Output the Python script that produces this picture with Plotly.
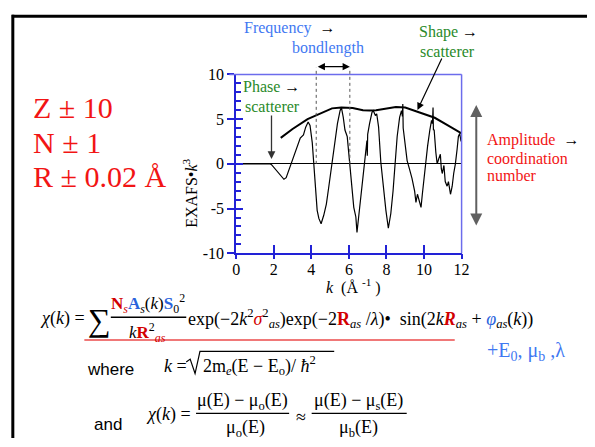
import plotly.graph_objects as go

W, H = 595, 447
SERIF = "Liberation Serif, Times New Roman, serif"
SANS = "Liberation Sans, Arial, sans-serif"

# ---------------- data ----------------
k_values = [0.0, 1.8, 1.88, 2.05, 2.23, 2.4, 2.54, 2.66, 2.8, 2.92, 3.1, 3.27, 3.41, 3.58, 3.7,
            3.83, 3.93, 4.05, 4.14, 4.23, 4.31, 4.4, 4.52, 4.66, 4.8, 4.92, 5.04, 5.15, 5.27,
            5.39, 5.53, 5.6, 5.7, 5.79, 5.91, 6.02, 6.14, 6.26, 6.37, 6.43, 6.5, 6.61, 6.71,
            6.83, 6.92, 6.96, 6.98, 7.0, 7.1, 7.23, 7.3, 7.41, 7.48, 7.58, 7.7, 7.83, 7.97,
            8.1, 8.23, 8.35, 8.45, 8.57, 8.7, 8.8, 8.85, 8.87, 8.89, 8.97, 9.1, 9.22, 9.36,
            9.5, 9.57, 9.65, 9.74, 9.84, 9.91, 10.05, 10.19, 10.31, 10.4, 10.45, 10.48, 10.5,
            10.54, 10.63, 10.7, 10.78, 10.87, 10.92, 10.97, 11.06, 11.13, 11.23, 11.3, 11.41,
            11.5, 11.58, 11.67, 11.76, 11.83, 11.9, 11.97]
chi_values = [0.0, 0.0, -0.1, -0.54, -0.9, -1.44, -1.73, -1.55, -0.72, 0.0, 1.26, 2.16, 2.88,
              3.24, 4.1, 4.68, 4.3, 2.34, 0.0, -3.06, -5.2, -6.1, -6.7, -5.75, -4.5, -2.7,
              -0.72, 1.08, 3.06, 4.5, 5.94, 6.3, 5.2, 3.78, 3.06, 0.54, -1.98, -4.86, -5.94,
              -7.66, -6.3, -4.14, -1.98, 0.0, 1.98, 2.6, 0.9, 3.3, 4.5, 5.76, 5.94, 5.4, 5.6,
              4.14, 0.18, -2.7, -5.2, -7.2, -5.58, -3.06, 0.0, 3.06, 5.2, 5.94, 5.3, 6.7, 4.0,
              2.34, 0.36, -0.54, -1.62, -3.06, -4.3, -3.4, -4.1, -4.86, -3.4, -0.54, 1.98, 3.78,
              4.86, 4.5, 6.3, 3.8, 3.78, 1.26, 0.0, 0.54, 1.08, -0.54, -1.08, -0.18, -1.98,
              -2.5, -1.98, -3.4, -2.5, -1.08, 0.0, 1.6, 3.06, 3.4, 2.5]

env_k = [2.37, 3.0, 3.8, 4.7, 5.1, 5.6, 6.2, 6.75, 7.1, 7.45, 8.1, 8.5, 9.0, 9.7, 10.4, 10.57,
         11.27, 12.0]
env_chi = [2.9, 3.9, 5.0, 5.8, 6.2, 6.3, 6.25, 6.0, 5.95, 6.0, 6.25, 6.35, 6.3, 5.75, 5.25,
           5.15, 4.3, 3.4]

x_tick_vals = [0, 2, 4, 6, 8, 10, 12]
x_tick_text = ["0", "2", "4", "6", "8", "10", "12"]
y_tick_vals = [-10, -5, 0, 5, 10]
y_tick_text = ["-10", "-5", "0", "5", "10"]
bond_k = [4.26, 6.05]

X_RANGE = [0, 12]
Y_RANGE = [-10, 10]

# ---------------- layout helpers ----------------
def px(x):
    return x / W

def py(y):
    return 1 - y / H

PLOT_L, PLOT_R, PLOT_T, PLOT_B = 237, 467, 69, 255
XDOM = [px(PLOT_L), px(PLOT_R)]
YDOM = [py(PLOT_B), py(PLOT_T)]

AXIS_BLUE = "#2222d6"
FRAME_BLUE = "#6c6cec"
RED = "#f21414"
FRED = "#d20000"
FBLUE = "#2a63dc"
LBLUE = "#3f78f2"
GREEN = "#2a8a2a"

anns = []
shapes = []

def txt(x, y, s, size, color="black", family=SERIF, xanchor="left", yanchor="middle", angle=0):
    anns.append(dict(x=px(x), y=py(y), xref="paper", yref="paper", text=s, showarrow=False,
                     font=dict(family=family, size=size, color=color),
                     xanchor=xanchor, yanchor=yanchor, textangle=angle))

def arrow(xh, yh, xt, yt, color="black", width=1.2, both=False):
    anns.append(dict(x=px(xh), y=py(yh), xref="paper", yref="paper", ax=xt - xh, ay=yt - yh,
                     axref="pixel", ayref="pixel", text="", showarrow=True, arrowhead=2,
                     arrowsize=1.2, arrowwidth=width, arrowcolor=color,
                     arrowside="end+start" if both else "end"))

def hline(x0, x1, y, color="black", width=1.2):
    shapes.append(dict(type="line", xref="paper", yref="paper", x0=px(x0), x1=px(x1),
                       y0=py(y), y1=py(y), line=dict(color=color, width=width)))

# ---------------- figure ----------------
fig = go.Figure()
fig.add_trace(go.Scatter(x=k_values, y=chi_values, mode="lines",
                         line=dict(color="black", width=1.2), hoverinfo="skip"))
fig.add_trace(go.Scatter(x=env_k, y=env_chi, mode="lines", xaxis="x2", yaxis="y2",
                         line=dict(color="black", width=2), hoverinfo="skip"))

tickfont = dict(family=SERIF, size=16, color="black")

fig.update_layout(
    width=W, height=H, autosize=False, showlegend=False,
    margin=dict(l=0, r=0, t=0, b=0),
    paper_bgcolor="white", plot_bgcolor="rgba(0,0,0,0)",
    xaxis=dict(domain=XDOM, range=X_RANGE, tickvals=x_tick_vals, ticktext=x_tick_text,
               ticks="inside", ticklen=8, tickwidth=2, tickcolor=AXIS_BLUE, showline=True,
               linecolor=AXIS_BLUE, linewidth=2, showgrid=False, zeroline=False,
               tickfont=tickfont, anchor="y", fixedrange=True),
    yaxis=dict(domain=YDOM, range=Y_RANGE, tickvals=y_tick_vals, ticktext=y_tick_text,
               ticks="outside", ticklen=7, tickwidth=2, tickcolor=AXIS_BLUE, showline=True,
               linecolor=AXIS_BLUE, linewidth=2, showgrid=False, zeroline=True,
               zerolinecolor="black", zerolinewidth=1, tickfont=tickfont, anchor="x",
               fixedrange=True),
    xaxis2=dict(domain=XDOM, range=X_RANGE, overlaying="x", anchor="y2", tickvals=x_tick_vals,
                ticks="outside", ticklen=5, tickwidth=2, tickcolor=AXIS_BLUE,
                showticklabels=False, showline=False, showgrid=False, zeroline=False,
                fixedrange=True),
    yaxis2=dict(domain=YDOM, range=Y_RANGE, overlaying="y", anchor="x2", tickvals=y_tick_vals,
                ticks="inside", ticklen=7, tickwidth=2, tickcolor=AXIS_BLUE,
                minor=dict(ticks="inside", ticklen=5, tickwidth=1.5, tickcolor=AXIS_BLUE, dtick=1),
                showticklabels=False, showline=False, showgrid=False, zeroline=False,
                fixedrange=True),
)

# frame top & right
hline(PLOT_L - 7, PLOT_R, PLOT_T, FRAME_BLUE, 1.5)
shapes.append(dict(type="line", xref="paper", yref="paper", x0=px(PLOT_R), x1=px(PLOT_R),
                   y0=py(PLOT_T), y1=py(PLOT_B), line=dict(color=FRAME_BLUE, width=1.5)))

# slide border
shapes.append(dict(type="line", xref="paper", yref="paper", x0=px(8), x1=1, y0=py(8.5), y1=py(8.5),
                   line=dict(color="black", width=3)))
shapes.append(dict(type="line", xref="paper", yref="paper", x0=px(9), x1=px(9), y0=py(7), y1=0,
                   line=dict(color="black", width=3)))

# dotted bondlength markers (from chi = 0 up above the frame)
y_zero_paper = YDOM[0] + (0 - Y_RANGE[0]) / (Y_RANGE[1] - Y_RANGE[0]) * (YDOM[1] - YDOM[0])
for kb in bond_k:
    shapes.append(dict(type="line", xref="x", yref="paper", x0=kb, x1=kb, y0=y_zero_paper,
                       y1=py(62), line=dict(color="#555", width=1, dash="dot")))
anns.append(dict(x=bond_k[1], y=py(61), xref="x", yref="paper", ax=bond_k[0], ay=0,
                 axref="x", ayref="pixel", text="", showarrow=True, arrowhead=2, arrowsize=1.2,
                 arrowwidth=1.2, arrowcolor="black", arrowside="end+start"))

# axis titles
txt(190, 193, "EXAFS•<i>k</i><sup>3</sup>", 16, angle=-90, xanchor="center")
txt(357, 290, "<i>k</i>  (Å <sup>-1</sup> )", 16, xanchor="center")

# chart annotations
txt(243, 21, f'<span style="color:{LBLUE}">Frequency</span>  →', 16)
txt(292, 42, "bondlength", 16, LBLUE)
txt(421, 25, f'<span style="color:{GREEN}">Shape</span> →', 16)
txt(423, 45, "scatterer", 16, GREEN)
txt(242, 82, f'<span style="color:{GREEN}">Phase</span> →', 16)
txt(244, 102, "scatterer", 16, GREEN)
txt(491, 137, f'<span style="color:{RED}">Amplitude</span>  →', 16)
txt(491, 156, "coordination", 16, RED)
txt(491, 174, "number", 16, RED)

arrow(273, 157, 273, 112, "#333", 1.3)
arrow(422, 106, 447, 53, "black", 1.2)
arrow(482, 226, 482, 104, "#606060", 2, both=True)

# big red uncertainties
txt(28, 103, "Z ± 10", 30, RED)
txt(28, 140, "N ± 1", 30, RED)
txt(28, 175, "R ± 0.02 Å", 30, RED)

# ---------------- formulas ----------------
FS = 18
txt(35, 323, "<i>χ</i>(<i>k</i>) =", FS)
txt(84, 324, "∑", 32)
num = (f'<b><span style="color:{FRED}">N</span></b><sub><i><span style="color:{FRED}">s</span></i></sub>'
       f'<b><span style="color:{FBLUE}">A</span></b><sub><i>s</i></sub>(<i>k</i>)'
       f'<b><span style="color:{FBLUE}">S</span></b><sub>0</sub><sup>2</sup>')
txt(147, 307, num, 17, xanchor="center")
hline(109, 186, 321.5, "black", 1.3)
den = f'<i>k</i><b><span style="color:{FRED}">R</span></b><sup>2</sup><sub><i><span style="color:{FRED}">as</span></i></sub>'
txt(146, 337, den, 17, xanchor="center")
rest = (f'exp(−2<i>k</i><sup>2</sup><i><span style="color:{FRED}">σ</span></i><sup>2</sup><sub><i>as</i></sub>)'
        f'exp(−2<b><span style="color:{FRED}">R</span></b><sub><i>as</i></sub> /<i>λ</i>)•  '
        f'sin(2<i>k</i><b><i><span style="color:{FRED}">R</span></i></b><sub><i>as</i></sub> + '
        f'<i><span style="color:{FBLUE}">φ</span></i><sub><i>as</i></sub>(<i>k</i>))')
txt(186, 323, rest, FS)
hline(82, 460, 345, "#f07878", 2)
txt(491, 357, "+E<sub>0</sub>, μ<sub>b</sub> ,λ", 20, LBLUE)

txt(83, 376, "where", 17, family=SANS)
txt(161, 372, "<i>k</i> =", FS)
# radical sign
shapes.append(dict(type="path", xref="paper", yref="paper",
                   path=f"M {px(186)} {py(368)} L {px(190)} {py(365)} L {px(195)} {py(380)} "
                        f"L {px(200)} {py(357)} L {px(337)} {py(357)}",
                   line=dict(color="black", width=1.2)))
txt(201, 372, "2m<sub><i>e</i></sub>(E − E<sub>o</sub>)/ <i>ħ</i><sup>2</sup>", FS)

txt(90, 433, "and", 17, family=SANS)
txt(143, 423, "<i>χ</i>(<i>k</i>) =", FS)
txt(243, 409, "μ(E) − μ<sub>o</sub>(E)", 18, xanchor="center")
hline(196, 291, 421.5, "black", 1.3)
txt(246, 437, "μ<sub>o</sub>(E)", 18, xanchor="center")
txt(296, 425, "≈", 18)
txt(362, 409, "μ(E) − μ<sub>s</sub>(E)", 18, xanchor="center")
hline(314, 411, 421.5, "black", 1.3)
txt(362, 437, "μ<sub>b</sub>(E)", 18, xanchor="center")

fig.update_layout(annotations=anns, shapes=shapes)
fig.write_html("out.html", config={"displayModeBar": False},
               post_script="document.body.style.margin='0';")
